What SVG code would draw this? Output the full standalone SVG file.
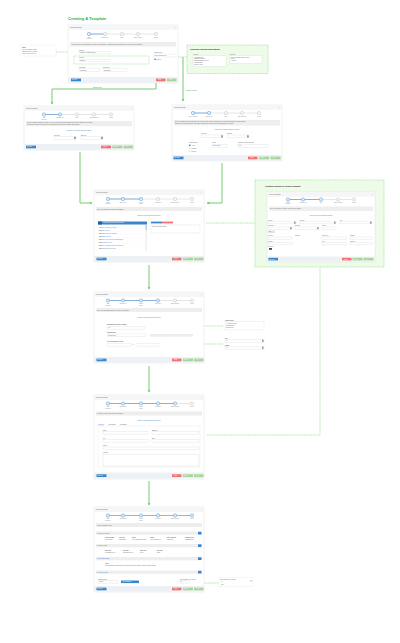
<svg xmlns="http://www.w3.org/2000/svg" width="400" height="643" viewBox="0 0 400 643">
<defs>
<style>
text{font-family:"Liberation Sans",Arial,sans-serif;}
.bg{fill:#ffffff}
.fr{fill:#ffffff;stroke:#d9dde2;stroke-width:0.4}
.hd{fill:#f5f6f7}
.ht{font-size:1.6px;fill:#666}
.ib{fill:#eeeeee}
.ft{fill:#edf1f5}
.t{font-size:1.3px;fill:#666}
.tl{font-size:1.3px;fill:#555;font-weight:bold}
.lk{font-size:1.5px;fill:#3f86cf}
.in{fill:#ffffff;stroke:#cfd3d8;stroke-width:0.3}
.bb{fill:#3a86cc}
.br{fill:#f27070}
.bg2{fill:#a8d49c}
.bt{font-size:1.1px;fill:#fff}
.sl{stroke:#cccccc;stroke-width:0.5}
.sa{stroke:#5b9bd5;stroke-width:0.7}
.ca{fill:#dcebf8;stroke:#5b9bd5;stroke-width:0.5}
.ci{fill:#f4f4f4;stroke:#c8c8c8;stroke-width:0.5}
.st{font-size:1.1px;fill:#888;text-anchor:middle}
.gp{fill:#eefbe9;stroke:#9fe39a;stroke-width:0.8;stroke-dasharray:1 0.7}
.gt{font-size:2px;fill:#222;font-weight:bold}
.cs{fill:none;stroke:#74cc72;stroke-width:1}
.cd{fill:none;stroke:#9fe39a;stroke-width:0.9;stroke-dasharray:1 0.7}
.gl{font-size:1.7px;fill:#2fa52f}
.sec{fill:#eeeeee}
.sect{font-size:1.4px;fill:#3f86cf}
</style>
<marker id="ah" viewBox="0 0 6 6" refX="5" refY="3" markerWidth="3" markerHeight="3" orient="auto"><path d="M0,0L6,3L0,6z" fill="#74cc72"/></marker>
</defs>
<rect class="bg" x="0" y="0" width="400" height="643"/>

<text x="68" y="20" font-size="4" font-weight="bold" fill="#2fb32f" font-family="Liberation Sans, Arial, sans-serif">Creating A Template</text>

<!-- connectors -->
<g id="connectors">
<path class="cd" d="M56,52H78"/>
<path class="cd" d="M176,57H187"/>
<path class="cs" d="M183,57V101" marker-end="url(#ah)"/>
<path class="cs" d="M156,60V89H52V104" marker-end="url(#ah)"/>
<path class="cs" d="M80,152V203H92" marker-end="url(#ah)"/>
<path class="cs" d="M222,163V203H207" marker-end="url(#ah)"/>
<path class="cd" d="M206,223H255"/>
<path class="cs" d="M149,265V289" marker-end="url(#ah)"/>
<path class="cd" d="M137,331V326H223"/>
<path class="cd" d="M170,338V344H223"/>
<path class="cs" d="M149,366V392" marker-end="url(#ah)"/>
<path class="cd" d="M320,268V435H207"/>
<path class="cs" d="M149,481V505" marker-end="url(#ah)"/>
<path class="cd" d="M193,583H219"/>
<text class="gl" x="93" y="87.5">Single Role</text>
<text class="gl" x="186" y="91">Multiple Roles</text>
</g>

<!-- note -->
<g id="note">
<rect x="20" y="45" width="36" height="11" fill="#fff" stroke="#e2e2e2" stroke-width="0.3"/>
<text class="tl" x="22" y="47.5">Notes</text>
<text class="t" x="22" y="49.8">Select the template basis</text>
<text class="t" x="22" y="51.8">Template name is required</text>
<text class="t" x="22" y="54" fill="#2fa52f" style="fill:#2fa52f">Choose from existing list</text>
</g>

<!-- frame 1 -->
<g id="frame1">
<rect class="fr" x="68" y="25" width="110" height="58"/>
<rect class="hd" x="68.2" y="25.2" width="109.6" height="4.8"/>
<text class="ht" x="70" y="28.3">Create Template</text>
<text class="ht" x="175" y="28.3">×</text>
<line class="sl" x1="89" y1="34" x2="156" y2="34"/>
<line class="sa" x1="89" y1="34" x2="105" y2="34"/>
<circle class="ca" cx="89" cy="34" r="1.7"/>
<circle class="ci" cx="105" cy="34" r="1.7"/>
<circle class="ci" cx="122" cy="34" r="1.7"/>
<circle class="ci" cx="138" cy="34" r="1.7"/>
<circle class="ci" cx="156" cy="34" r="1.7"/>
<text class="st" x="89" y="38">Basic</text><text class="st" x="89" y="39.3">Information</text>
<text class="st" x="105" y="38">Template Type</text>
<text class="st" x="122" y="38">Entity</text>
<text class="st" x="138" y="38">Email Recipients</text>
<text class="st" x="156" y="38">Review</text>
<rect class="ib" x="70" y="42" width="106" height="4.5"/>
<text class="t" x="71.5" y="44.7">Please provide the following details to create a new template. Fields marked with an asterisk are required before continuing.</text>
<text class="t" x="79" y="50.7">Template</text>
<rect class="in" x="79" y="51.5" width="31" height="2.5"/>
<text class="t" x="80" y="53.2">Choose the template basis</text>
<rect x="74" y="56" width="75" height="8" fill="#fff" stroke="#9fe39a" stroke-width="0.7" stroke-dasharray="1 0.7"/>
<text class="t" x="79" y="58.4">Category</text>
<rect class="in" x="79" y="59.3" width="31" height="2.5"/>
<text class="t" x="80" y="61">Contract</text>
<text class="t" x="154" y="52.7">Contract Type</text>
<rect class="in" x="154" y="54" width="22" height="3"/>
<text class="t" x="155" y="55.9">Select contract type</text>
<rect x="154.4" y="58.6" width="1.4" height="1.4" fill="#3a86cc"/>
<text class="t" x="156.5" y="59.9">Multiple</text>
<text class="t" x="79" y="67.6">Valid From</text>
<rect class="in" x="79" y="68.8" width="21" height="2.5"/>
<text class="t" x="80" y="70.5">01/01/2020</text>
<text class="t" x="103" y="67.6">Description</text>
<rect class="in" x="103" y="68.8" width="24" height="2.5"/>
<text class="t" x="104" y="70.5">Description</text>
<rect class="ft" x="68.2" y="77" width="109.6" height="5.8"/>
<rect class="bb" x="71" y="78.6" width="10" height="2.7"/><text class="bt" x="72" y="80.3">Next Step</text>
<rect class="br" x="156" y="78.6" width="9.5" height="2.7"/><text class="bt" x="158" y="80.3">Cancel</text>
<rect class="bg2" x="167" y="78.6" width="9.5" height="2.7"/><text class="bt" x="169.5" y="80.3">Save</text>
</g>

<!-- green panel 1 -->
<g id="panel1">
<rect class="gp" x="187" y="45" width="81" height="28.5"/>
<text class="gt" x="190" y="49.5">Choosing contract applications</text>
<text class="t" x="193" y="54.5">Available</text>
<rect class="in" x="193" y="55.5" width="33" height="11"/>
<text class="t" x="194" y="57.5">Application One</text>
<text class="t" x="194" y="59.3">Document Services</text>
<text class="t" x="194" y="61.1">Data Management Portal</text>
<text class="t" x="194" y="62.9">Reporting Tools</text>
<text class="t" x="194" y="64.7">Partner Access</text>
<text class="t" x="230" y="54.5">Selected</text>
<rect class="in" x="230" y="55.5" width="32" height="8"/>
<text class="t" x="231" y="57.5">Web Application Services (Core)</text>
<text class="t" x="231" y="59.3">Billing</text>
<text class="t" x="231" y="61.1">Analytics</text>
</g>

<!-- frame 2 -->
<g id="frame2">
<rect class="fr" x="24" y="106" width="110" height="44"/>
<rect class="hd" x="24.2" y="106.2" width="109.6" height="4.8"/>
<text class="ht" x="26" y="109.3">Create Template</text>
<text class="ht" x="131" y="109.3">×</text>
<line class="sl" x1="44" y1="114.5" x2="111" y2="114.5"/>
<line class="sa" x1="44" y1="114.5" x2="60" y2="114.5"/>
<circle class="ca" cx="44" cy="114.5" r="1.7"/>
<circle class="ca" cx="60" cy="114.5" r="1.7"/>
<circle class="ci" cx="77" cy="114.5" r="1.7"/>
<circle class="ci" cx="94" cy="114.5" r="1.7"/>
<circle class="ci" cx="111" cy="114.5" r="1.7"/>
<text class="st" x="44" y="118.3">Basic</text><text class="st" x="44" y="119.5">Information</text>
<text class="st" x="60" y="118.3">Template Type</text>
<text class="st" x="77" y="118.3">Entity</text>
<text class="st" x="94" y="118.3">Email Recipients</text>
<text class="st" x="111" y="118.3">Review</text>
<rect class="ib" x="26" y="121" width="106" height="5.2"/>
<text class="t" x="27" y="123">Note: the template applies to a single role. Select the date range during which the contract template is valid. Dates</text>
<text class="t" x="27" y="125">are inclusive and will be used to filter the contracts that can use this template going forward.</text>
<text class="lk" x="79" y="131" text-anchor="middle">Choosing a Contract Based Template</text>
<text class="t" x="54" y="135.5">Start date</text>
<rect class="in" x="54" y="136.5" width="22" height="2.8"/>
<rect x="74" y="136.8" width="1.8" height="2.2" fill="#999"/>
<text class="t" x="81" y="135.5">End date</text>
<rect class="in" x="81" y="136.5" width="22" height="2.8"/>
<rect x="101" y="136.8" width="1.8" height="2.2" fill="#999"/>
<rect class="ft" x="24.2" y="144" width="109.6" height="5.8"/>
<rect class="bb" x="26" y="145.6" width="10" height="2.7"/><text class="bt" x="27" y="147.3">Back Step</text>
<rect class="br" x="101" y="145.6" width="10" height="2.7"/><text class="bt" x="103" y="147.3">Cancel</text>
<rect class="bg2" x="112.3" y="145.6" width="10" height="2.7"/><text class="bt" x="113.5" y="147.3">Previous</text>
<rect class="bg2" x="123.6" y="145.6" width="9.4" height="2.7"/><text class="bt" x="126" y="147.3">Next</text>
</g>

<!-- frame 3 -->
<g id="frame3">
<rect class="fr" x="172" y="105" width="110" height="56"/>
<rect class="hd" x="172.2" y="105.2" width="109.6" height="4.8"/>
<text class="ht" x="174" y="108.3">Create Template</text>
<text class="ht" x="279" y="108.3">×</text>
<line class="sl" x1="193" y1="113" x2="259" y2="113"/>
<line class="sa" x1="193" y1="113" x2="209" y2="113"/>
<circle class="ca" cx="193" cy="113" r="1.7"/>
<circle class="ca" cx="209" cy="113" r="1.7"/>
<circle class="ci" cx="226" cy="113" r="1.7"/>
<circle class="ci" cx="242" cy="113" r="1.7"/>
<circle class="ci" cx="259" cy="113" r="1.7"/>
<text class="st" x="193" y="116.8">Basic Information</text>
<text class="st" x="209" y="116.8">Template Type</text>
<text class="st" x="226" y="116.8">Entity</text>
<text class="st" x="242" y="116.8">Email Recipients</text>
<text class="st" x="259" y="116.8">Review</text>
<rect class="ib" x="174" y="120" width="106" height="5.5"/>
<text class="t" x="175" y="122">Note: the template applies to multiple roles. Select the date range and status for the contracts that should use this template</text>
<text class="t" x="175" y="124">and provide a period description. Only active contracts will be listed on the following step of the wizard.</text>
<text class="lk" x="227" y="129.5" text-anchor="middle">Choosing a Contract Based Template</text>
<text class="t" x="201" y="134">Start date</text>
<rect class="in" x="201" y="135" width="22" height="2.8"/>
<rect x="221" y="135.3" width="1.8" height="2.2" fill="#999"/>
<text class="t" x="227" y="134">End date</text>
<rect class="in" x="227" y="135" width="22" height="2.8"/>
<rect x="247" y="135.3" width="1.8" height="2.2" fill="#999"/>
<text class="t" x="189" y="143.2">Choose Status</text>
<rect x="189" y="144.6" width="1.5" height="1.5" fill="#3a86cc"/>
<text class="t" x="191.5" y="146">Active</text>
<circle cx="189.7" cy="148.5" r="0.6" fill="none" stroke="#999" stroke-width="0.2"/>
<text class="t" x="191.5" y="149">Pending</text>
<circle cx="189.7" cy="151.5" r="0.6" fill="none" stroke="#999" stroke-width="0.2"/>
<text class="t" x="191.5" y="152">Expired</text>
<text class="t" x="212" y="143.2">Status</text>
<rect class="in" x="212" y="144.5" width="15" height="2.8"/>
<text class="t" x="213" y="146.3">Current value</text>
<text class="t" x="238" y="143.2">Contract Period Description</text>
<rect class="in" x="238" y="144.5" width="30" height="2.8"/>
<text class="t" x="239" y="146.3">Fall</text>
<rect class="ft" x="172.2" y="155" width="109.6" height="5.8"/>
<rect class="bb" x="173.5" y="156.6" width="10" height="2.7"/><text class="bt" x="174.5" y="158.3">Back Step</text>
<rect class="br" x="248" y="156.6" width="9.5" height="2.7"/><text class="bt" x="250" y="158.3">Cancel</text>
<rect class="bg2" x="259" y="156.6" width="10" height="2.7"/><text class="bt" x="260" y="158.3">Previous</text>
<rect class="bg2" x="270.5" y="156.6" width="10" height="2.7"/><text class="bt" x="273" y="158.3">Next</text>
</g>

<!-- frame 4 -->
<g id="frame4">
<rect class="fr" x="94" y="190" width="110" height="72"/>
<rect class="hd" x="94.2" y="190.2" width="109.6" height="4.8"/>
<text class="ht" x="96" y="193.3">Create Template</text>
<text class="ht" x="201" y="193.3">×</text>
<line class="sl" x1="108" y1="199" x2="192" y2="199"/>
<line class="sa" x1="108" y1="199" x2="141" y2="199"/>
<circle class="ca" cx="108" cy="199" r="1.7"/>
<circle class="ca" cx="123" cy="199" r="1.7"/>
<circle class="ca" cx="141" cy="199" r="1.7"/>
<circle class="ci" cx="158" cy="199" r="1.7"/>
<circle class="ci" cx="175" cy="199" r="1.7"/>
<circle class="ci" cx="192" cy="199" r="1.7"/>
<text class="st" x="108" y="202.8">Basic</text><text class="st" x="108" y="204">Information</text>
<text class="st" x="123" y="202.8">Template Type</text>
<text class="st" x="141" y="202.8">Contract</text><text class="st" x="141" y="204">Details</text>
<text class="st" x="158" y="202.8">Subscription</text>
<text class="st" x="175" y="202.8">Email Recipients</text>
<text class="st" x="192" y="202.8">Review</text>
<rect class="ib" x="96" y="207" width="106" height="4"/>
<text class="t" x="97" y="209.5">Select the contracts to include in this template.</text>
<text class="lk" x="149" y="215.5" text-anchor="middle">Choosing Contract Based Template</text>
<rect x="98" y="221.5" width="49" height="3" fill="#3a86cc"/>
<rect x="98" y="221.5" width="4" height="3" fill="#1f5f9e"/>
<text class="bt" x="103" y="223.4">Contract    Name    Status    Start    End    Role    Type</text>
<g class="t">
<text x="99" y="227.5"><tspan font-weight="bold">ABC</tspan> <tspan fill="#3f86cf">Web Application Hosting</tspan></text>
<text x="99" y="230.6"><tspan font-weight="bold">Row</tspan> <tspan fill="#3f86cf">Data Archive</tspan></text>
<text x="99" y="233.7"><tspan font-weight="bold">Row</tspan> <tspan fill="#3f86cf">Content Delivery Network</tspan></text>
<text x="99" y="236.8"><tspan font-weight="bold">Row</tspan> <tspan fill="#3f86cf">Email Services</tspan></text>
<text x="99" y="239.9"><tspan font-weight="bold">Row</tspan> <tspan fill="#3f86cf">Data Analytics Platform Subscription</tspan></text>
<text x="99" y="243"><tspan font-weight="bold">Row</tspan> <tspan fill="#3f86cf">Backup Services</tspan></text>
<text x="99" y="246.1"><tspan font-weight="bold">Row</tspan> <tspan fill="#3f86cf">Web Application Security Monitoring</tspan></text>
<text x="99" y="249.2"><tspan font-weight="bold">Row</tspan> <tspan fill="#3f86cf">Cloud Storage Services</tspan></text>
</g>
<g stroke="#eeeeee" stroke-width="0.2">
<line x1="98" y1="228.4" x2="145" y2="228.4"/><line x1="98" y1="231.5" x2="145" y2="231.5"/>
<line x1="98" y1="234.6" x2="145" y2="234.6"/><line x1="98" y1="237.7" x2="145" y2="237.7"/>
<line x1="98" y1="240.8" x2="145" y2="240.8"/><line x1="98" y1="243.9" x2="145" y2="243.9"/>
<line x1="98" y1="247" x2="145" y2="247"/><line x1="98" y1="250.1" x2="145" y2="250.1"/>
</g>
<rect x="145.5" y="225" width="1.3" height="26" fill="#eeeeee"/>
<rect x="145.5" y="225" width="1.3" height="5" fill="#c8c8c8"/>
<rect x="151" y="221.6" width="11" height="1.8" fill="#3a86cc"/>
<rect x="162" y="221.6" width="11" height="1.8" fill="#f27070"/>
<rect class="in" x="151" y="225" width="49" height="8"/>
<text class="t" x="152" y="227">Selected contract details</text>
<rect class="ft" x="94.2" y="256" width="109.6" height="5.8"/>
<rect class="bb" x="96.5" y="257.6" width="10" height="2.7"/><text class="bt" x="97.5" y="259.3">Back Step</text>
<rect class="br" x="172" y="257.6" width="9.5" height="2.7"/><text class="bt" x="174" y="259.3">Cancel</text>
<rect class="bg2" x="183" y="257.6" width="10" height="2.7"/><text class="bt" x="184" y="259.3">Previous</text>
<rect class="bg2" x="194" y="257.6" width="9.5" height="2.7"/><text class="bt" x="196.5" y="259.3">Next</text>
</g>

<!-- green panel 2 -->
<g id="panel2">
<rect class="gp" x="255" y="180" width="129" height="87"/>
<text class="gt" x="265" y="186.5">Creating Content by Region Template</text>
<rect class="fr" x="267" y="192" width="108" height="70"/>
<rect class="hd" x="267.2" y="192.2" width="107.6" height="4.6"/>
<text class="ht" x="269" y="195.2">Create Template</text>
<text class="ht" x="372" y="195.2">×</text>
<line class="sl" x1="288" y1="199.5" x2="354" y2="199.5"/>
<line class="sa" x1="288" y1="199.5" x2="321" y2="199.5"/>
<circle class="ca" cx="288" cy="199.5" r="1.7"/>
<circle class="ca" cx="303" cy="199.5" r="1.7"/>
<circle class="ca" cx="321" cy="199.5" r="1.7"/>
<circle class="ci" cx="338" cy="199.5" r="1.7"/>
<circle class="ci" cx="354" cy="199.5" r="1.7"/>
<text class="st" x="288" y="203.2">Basic</text><text class="st" x="288" y="204.4">Information</text>
<text class="st" x="303" y="203.2">Template Type</text>
<text class="st" x="321" y="203.2">Entity</text>
<text class="st" x="338" y="203.2">Email Recipients</text>
<text class="st" x="354" y="203.2">Review</text>
<rect class="ib" x="269" y="206.5" width="104" height="4.5"/>
<text class="t" x="270" y="209">Select the content by region to include in this template.</text>
<text class="lk" x="321" y="216" text-anchor="middle">Choosing Content Based Template</text>
<text class="t" x="268" y="220.5">Region</text>
<rect class="in" x="268" y="221.5" width="28" height="2.4"/>
<rect x="294" y="221.7" width="1.6" height="2" fill="#999"/>
<text class="t" x="300" y="220.5">Country</text>
<rect class="in" x="300" y="221.5" width="36" height="2.4"/>
<rect x="334" y="221.7" width="1.6" height="2" fill="#999"/>
<text class="t" x="340" y="220.5">City</text>
<rect class="in" x="340" y="221.5" width="32" height="2.4"/>
<rect x="370" y="221.7" width="1.6" height="2" fill="#999"/>
<text class="t" x="268" y="226.2">Start date</text>
<rect class="in" x="268" y="227" width="24" height="2.4"/>
<rect x="290" y="227.2" width="1.6" height="2" fill="#999"/>
<text class="t" x="295" y="226.2">End date</text>
<rect class="in" x="295" y="227" width="24" height="2.4"/>
<rect x="317" y="227.2" width="1.6" height="2" fill="#999"/>
<text class="t" x="322" y="226.2">Period</text>
<rect class="in" x="322" y="227" width="14" height="2.4"/>
<rect x="268" y="230.5" width="7" height="2.5" fill="#e4e4e4"/>
<text class="t" x="268.5" y="232.2">Add</text>
<text class="t" x="268" y="236">Property</text>
<text class="t" x="295" y="236">Category</text>
<text class="t" x="322" y="236">Stock Type</text>
<text class="t" x="350" y="236">Channel</text>
<rect class="in" x="268" y="237" width="24" height="2.4"/>
<rect class="in" x="322" y="237" width="24" height="2.4"/>
<rect class="in" x="350" y="237" width="22" height="2.4"/>
<text class="t" x="268" y="241.5">Quantity</text>
<text class="t" x="322" y="241.5">Unit</text>
<text class="t" x="350" y="241.5">Currency</text>
<rect class="in" x="268" y="242.5" width="24" height="2.4"/>
<rect class="in" x="322" y="242.5" width="24" height="2.4"/>
<rect class="in" x="350" y="242.5" width="22" height="2.4"/>
<text class="t" x="268" y="247">Required</text>
<rect x="269" y="248" width="3" height="1.8" fill="#444"/>
<rect class="ft" x="267.2" y="256.5" width="107.6" height="5.3"/>
<rect class="bb" x="268.5" y="257.8" width="9.5" height="2.6"/><text class="bt" x="269.5" y="259.5">Back Step</text>
<rect class="br" x="342" y="257.8" width="9.5" height="2.6"/><text class="bt" x="344" y="259.5">Cancel</text>
<rect class="bg2" x="352.5" y="257.8" width="10" height="2.6"/><text class="bt" x="353.5" y="259.5">Previous</text>
<rect class="bg2" x="363.5" y="257.8" width="10" height="2.6"/><text class="bt" x="366" y="259.5">Next</text>
</g>

<!-- frame 5 -->
<g id="frame5">
<rect class="fr" x="94" y="292" width="110" height="71"/>
<rect class="hd" x="94.2" y="292.2" width="109.6" height="4.8"/>
<text class="ht" x="96" y="295.3">Create Template</text>
<text class="ht" x="201" y="295.3">×</text>
<line class="sl" x1="108" y1="300.5" x2="192" y2="300.5"/>
<line class="sa" x1="108" y1="300.5" x2="158" y2="300.5"/>
<circle class="ca" cx="108" cy="300.5" r="1.7"/>
<circle class="ca" cx="123" cy="300.5" r="1.7"/>
<circle class="ca" cx="141" cy="300.5" r="1.7"/>
<circle class="ca" cx="158" cy="300.5" r="1.7"/>
<circle class="ci" cx="175" cy="300.5" r="1.7"/>
<circle class="ci" cx="192" cy="300.5" r="1.7"/>
<text class="st" x="108" y="304.3">Basic</text><text class="st" x="108" y="305.5">Information</text>
<text class="st" x="123" y="304.3">Template Type</text>
<text class="st" x="141" y="304.3">Contract</text><text class="st" x="141" y="305.5">Details</text>
<text class="st" x="158" y="304.3">Subscription</text>
<text class="st" x="175" y="304.3">Email Recipients</text>
<text class="st" x="192" y="304.3">Review</text>
<rect class="ib" x="96" y="308" width="106" height="4"/>
<text class="t" x="97" y="310.5">Select the subscription details to include in this template.</text>
<text class="lk" x="149" y="317.5" text-anchor="middle">Choosing Contract Based Template</text>
<text class="t" x="107" y="324.5" font-weight="bold">Subscription Reference Number</text>
<rect class="in" x="107" y="326.5" width="38" height="2.6"/>
<text class="t" x="108" y="328.3">Any</text>
<text class="t" x="107" y="332.5" font-weight="bold">Contract Type</text>
<rect class="in" x="107" y="334" width="39" height="2.6"/>
<text class="t" x="108" y="335.8">Contract Type</text>
<rect x="150" y="334" width="43" height="2.6" fill="#ececec"/>
<text class="t" x="107" y="341.5" font-weight="bold">Line Item Quantity Pricing</text>
<rect class="in" x="107" y="343.5" width="24" height="2.6"/>
<text class="t" x="132.5" y="345.3">to</text>
<rect class="in" x="136" y="343.5" width="24" height="2.6"/>
<rect class="ft" x="94.2" y="357" width="109.6" height="5.8"/>
<rect class="bb" x="96.5" y="358.6" width="10" height="2.7"/><text class="bt" x="97.5" y="360.3">Back Step</text>
<rect class="br" x="172" y="358.6" width="9.5" height="2.7"/><text class="bt" x="174" y="360.3">Cancel</text>
<rect class="bg2" x="183" y="358.6" width="10" height="2.7"/><text class="bt" x="184" y="360.3">Previous</text>
<rect class="bg2" x="194" y="358.6" width="9.5" height="2.7"/><text class="bt" x="196.5" y="360.3">Next</text>
</g>

<!-- detached fields for frame 5 -->
<g id="detail5">
<text class="t" x="225" y="320.5" font-weight="bold">Contract Type</text>
<rect class="in" x="225" y="321.5" width="39" height="8.5"/>
<text class="t" x="226" y="323.5">All Contract Types</text>
<text class="t" x="226" y="325.8">Standard Type</text>
<text class="t" x="226" y="328.1">Special Type</text>
<text class="t" x="225" y="338.5" font-weight="bold">Unit</text>
<rect class="in" x="225" y="339.5" width="39" height="2.6"/>
<rect x="262" y="339.7" width="1.6" height="2.2" fill="#999"/>
<text class="t" x="226" y="341.3">All</text>
<text class="t" x="225" y="345.5" font-weight="bold">Rating</text>
<rect class="in" x="225" y="346.5" width="39" height="2.6"/>
<rect x="262" y="346.7" width="1.6" height="2.2" fill="#999"/>
<text class="t" x="226" y="348.3">All</text>
</g>

<!-- frame 6 -->
<g id="frame6">
<rect class="fr" x="94" y="395" width="110" height="84"/>
<rect class="hd" x="94.2" y="395.2" width="109.6" height="4.8"/>
<text class="ht" x="96" y="398.3">Create Template</text>
<text class="ht" x="201" y="398.3">×</text>
<line class="sl" x1="108" y1="403.5" x2="192" y2="403.5"/>
<line class="sa" x1="108" y1="403.5" x2="175" y2="403.5"/>
<circle class="ca" cx="108" cy="403.5" r="1.7"/>
<circle class="ca" cx="123" cy="403.5" r="1.7"/>
<circle class="ca" cx="141" cy="403.5" r="1.7"/>
<circle class="ca" cx="158" cy="403.5" r="1.7"/>
<circle class="ca" cx="175" cy="403.5" r="1.7"/>
<circle class="ci" cx="192" cy="403.5" r="1.7"/>
<text class="st" x="108" y="407.3">Basic</text><text class="st" x="108" y="408.5">Information</text>
<text class="st" x="123" y="407.3">Template Type</text>
<text class="st" x="141" y="407.3">Contract</text><text class="st" x="141" y="408.5">Details</text>
<text class="st" x="158" y="407.3">Subscription</text>
<text class="st" x="175" y="407.3">Email Recipients</text>
<text class="st" x="192" y="407.3">Review</text>
<rect class="ib" x="96" y="411.5" width="106" height="4"/>
<text class="t" x="97" y="414">Provide the e-mail recipients for this template.</text>
<text class="lk" x="149" y="420.5" text-anchor="middle">Choosing Contract Based Template</text>
<text class="t" x="98" y="424.8" fill="#3f86cf" style="fill:#3f86cf;text-decoration:underline">Recipients</text>
<text class="t" x="108.5" y="424.8">Notifications</text>
<text class="t" x="119.5" y="424.8">Attachments</text>
<rect x="98" y="426" width="102" height="41" fill="#fff" stroke="#dddddd" stroke-width="0.3"/>
<text class="t" x="103" y="430.5">Name</text>
<rect class="in" x="103" y="431.5" width="45" height="2.6"/>
<text class="t" x="152" y="430.5">Email/Ext</text>
<rect class="in" x="152" y="431.5" width="47" height="2.6"/>
<text class="t" x="103" y="438.5">CC</text>
<rect class="in" x="103" y="439.5" width="45" height="2.6"/>
<text class="t" x="152" y="438.5">BCC</text>
<rect class="in" x="152" y="439.5" width="47" height="2.6"/>
<text class="t" x="103" y="446">Subject</text>
<rect class="in" x="103" y="447" width="96" height="2.6"/>
<text class="t" x="103" y="453.3">Message</text>
<rect class="in" x="103" y="454.5" width="96" height="11.5"/>
<rect class="ft" x="94.2" y="472.5" width="109.6" height="6.3"/>
<rect class="bb" x="96.5" y="474.3" width="10" height="2.7"/><text class="bt" x="97.5" y="476">Back Step</text>
<rect class="br" x="172" y="474.3" width="9.5" height="2.7"/><text class="bt" x="174" y="476">Cancel</text>
<rect class="bg2" x="183" y="474.3" width="10" height="2.7"/><text class="bt" x="184" y="476">Previous</text>
<rect class="bg2" x="194" y="474.3" width="9.5" height="2.7"/><text class="bt" x="196.5" y="476">Next</text>
</g>

<!-- frame 7 -->
<g id="frame7">
<rect class="fr" x="94" y="507" width="110" height="85"/>
<rect class="hd" x="94.2" y="507.2" width="109.6" height="4.8"/>
<text class="ht" x="96" y="510.3">Create Template</text>
<text class="ht" x="201" y="510.3">×</text>
<line class="sa" x1="108" y1="515.5" x2="192" y2="515.5"/>
<circle class="ca" cx="108" cy="515.5" r="1.7"/>
<circle class="ca" cx="123" cy="515.5" r="1.7"/>
<circle class="ca" cx="141" cy="515.5" r="1.7"/>
<circle class="ca" cx="158" cy="515.5" r="1.7"/>
<circle class="ca" cx="175" cy="515.5" r="1.7"/>
<circle class="ca" cx="192" cy="515.5" r="1.7"/>
<text class="st" x="108" y="519.3">Basic</text><text class="st" x="108" y="520.5">Information</text>
<text class="st" x="123" y="519.3">Template Type</text>
<text class="st" x="141" y="519.3">Contract</text><text class="st" x="141" y="520.5">Details</text>
<text class="st" x="158" y="519.3">Subscription</text>
<text class="st" x="175" y="519.3">Email Recipients</text>
<text class="st" x="192" y="519.3">Review</text>
<rect class="ib" x="96" y="523" width="106" height="4"/>
<text class="t" x="97" y="525.5">Review information below</text>
<rect class="sec" x="96" y="531.5" width="106" height="3.3"/>
<text class="sect" x="97" y="533.7">Contract Information</text>
<rect class="bb" x="198" y="531.8" width="3.5" height="2.7"/>
<text class="t" x="105" y="537.8" font-weight="bold">Contract Name</text><text class="t" x="105" y="540">Web Hosting</text>
<text class="t" x="119" y="537.8" font-weight="bold">Type Info</text><text class="t" x="119" y="540">Subscription</text>
<text class="t" x="132" y="537.8" font-weight="bold">Entity</text><text class="t" x="132" y="540">Web Application Hosting</text>
<text class="t" x="150" y="537.8" font-weight="bold">Status</text><text class="t" x="150" y="540">Active Contract 01</text>
<text class="t" x="167" y="537.8" font-weight="bold">Role Assigned</text><text class="t" x="167" y="540">Subscriber</text>
<text class="t" x="185" y="537.8" font-weight="bold">Contract Type</text><text class="t" x="185" y="540">Standard Type</text>
<rect class="sec" x="96" y="544" width="106" height="3.3"/>
<text class="sect" x="97" y="546.2">Validation Dates</text>
<rect class="bb" x="198" y="544.3" width="3.5" height="2.7"/>
<text class="t" x="105" y="550.5" font-weight="bold">Start Date</text><text class="t" x="105" y="552.7">01/01/2020 00:00</text>
<text class="t" x="123" y="550.5" font-weight="bold">End Date</text><text class="t" x="123" y="552.7">12/31/2020 00:00</text>
<text class="t" x="140" y="550.5" font-weight="bold">Start Time</text><text class="t" x="140" y="552.7">00:00</text>
<text class="t" x="157" y="550.5" font-weight="bold">End Time</text><text class="t" x="157" y="552.7">23:59</text>
<rect class="sec" x="96" y="557" width="106" height="3.3"/>
<text class="sect" x="97" y="559.2">Subscription Details</text>
<rect class="bb" x="198" y="557.3" width="3.5" height="2.7"/>
<text class="t" x="105" y="563.5" font-weight="bold">Notes</text>
<text class="t" x="105" y="565.7">The subscription is managed by the data access policy and the contract reference details.</text>
<rect class="sec" x="96" y="570.5" width="106" height="3.3"/>
<text class="sect" x="97" y="572.7">E-mail Recipients</text>
<rect class="bb" x="198" y="570.8" width="3.5" height="2.7"/>
<text class="t" x="98" y="579.5">Template Name</text>
<rect class="in" x="98" y="580.5" width="20" height="2.6"/>
<text class="t" x="99" y="582.3">ABC01</text>
<rect class="bb" x="121" y="580.5" width="18" height="2.6"/>
<text class="bt" x="122.5" y="582.3">Save as Template</text>
<text class="t" x="180" y="579.5">Save Template File Format</text>
<rect class="in" x="180" y="580.5" width="4" height="2.6"/>
<text class="t" x="180.5" y="582.3">XL</text>
<rect class="in" x="185.5" y="580.5" width="4" height="2.6"/>
<rect class="ft" x="94.2" y="586" width="109.6" height="5.8"/>
<rect class="bb" x="96.5" y="587.6" width="10" height="2.7"/><text class="bt" x="97.5" y="589.3">Back Step</text>
<rect class="br" x="172" y="587.6" width="9.5" height="2.7"/><text class="bt" x="174" y="589.3">Cancel</text>
<rect class="bg2" x="183" y="587.6" width="10" height="2.7"/><text class="bt" x="184" y="589.3">Previous</text>
<rect class="bg2" x="194" y="587.6" width="9.5" height="2.7"/><text class="bt" x="196.5" y="589.3">Finish</text>
</g>

<!-- detached format box -->
<g id="detail7">
<rect x="219" y="577.5" width="34" height="9" fill="#fff" stroke="#e2e2e2" stroke-width="0.3"/>
<text class="t" x="220" y="579.5">Save Template File Format</text>
<text class="t" x="221" y="582">XL</text>
<text class="t" x="221" y="584.5">CSV</text>
<rect x="250.5" y="580" width="1.2" height="1.5" fill="#bbb"/>
</g>
</svg>
